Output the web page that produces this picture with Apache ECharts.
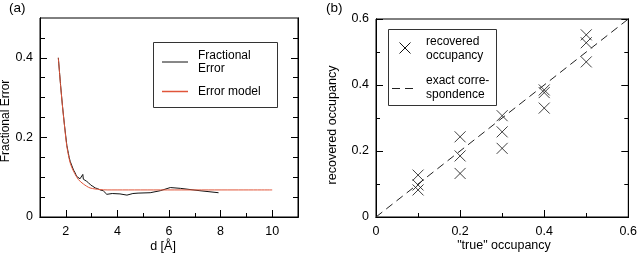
<!DOCTYPE html>
<html>
<head>
<meta charset="utf-8">
<script src="https://cdn.jsdelivr.net/npm/echarts@6.0.0/dist/echarts.min.js"></script>
<style>
  html, body { margin: 0; padding: 0; background: #fff; }
  #chart { width: 640px; height: 254px; }
</style>
</head>
<body>
<div id="chart"></div>
<script>
// panel (a): fractional error vs resolution
const dFrac = [1.71, 1.80, 1.87, 1.95, 2.04, 2.10, 2.13, 2.17, 2.24, 2.30, 2.36, 2.42, 2.49, 2.55, 2.62, 2.66, 2.68, 2.71, 2.80, 2.88, 2.97, 3.05, 3.14, 3.24, 3.33, 3.45, 3.59, 3.80, 4.10, 4.37, 4.60, 4.80, 5.27, 5.66, 6.05, 6.44, 7.20, 7.92];
const fracError = [0.40, 0.33, 0.28, 0.23, 0.18, 0.16, 0.150, 0.140, 0.128, 0.118, 0.111, 0.102, 0.098, 0.096, 0.093, 0.107, 0.095, 0.094, 0.090, 0.086, 0.080, 0.077, 0.073, 0.071, 0.068, 0.066, 0.057, 0.059, 0.058, 0.055, 0.059, 0.060, 0.061, 0.066, 0.074, 0.072, 0.066, 0.061];
const dModel = [1.71, 1.80, 1.87, 1.95, 2.04, 2.17, 2.30, 2.49, 2.68, 2.94, 3.33, 3.60, 10];
const errModel = [0.40, 0.329, 0.279, 0.229, 0.178, 0.136, 0.115, 0.094, 0.083, 0.073, 0.069, 0.068, 0.068];

// panel (b): recovered vs true occupancy
const trueOcc = [0.1, 0.1, 0.1, 0.2, 0.2, 0.2, 0.3, 0.3, 0.3, 0.4, 0.4, 0.4, 0.5, 0.5, 0.5];
const recOcc = [0.127, 0.097, 0.082, 0.243, 0.185, 0.132, 0.307, 0.258, 0.208, 0.385, 0.377, 0.330, 0.552, 0.528, 0.470];
const exactLine = [[0, 0], [0.6, 0.6]];

// tick labels
const aXLabels = [2, 4, 6, 8, 10];
const aXMinor = [3, 5, 7, 9];
const aYLabels = [0, 0.2, 0.4];
const aYMinor = [0.05, 0.1, 0.15, 0.25, 0.3, 0.35, 0.45];
const bLabels = [0, 0.2, 0.4, 0.6];
const bMinor = [0.1, 0.3, 0.5];

const FONT = 'Liberation Sans, Arial, sans-serif';

function axis(kind, gridIndex, min, max, position, ticks, labels, tickLen) {
  return {
    type: 'value',
    gridIndex: gridIndex,
    min: min,
    max: max,
    position: position,
    splitLine: { show: false },
    axisLine: { show: true, lineStyle: { color: '#000', width: 1 } },
    axisTick: {
      show: true,
      inside: true,
      length: tickLen,
      customValues: ticks,
      lineStyle: { color: '#000', width: 1 }
    },
    axisLabel: labels ? {
      show: true,
      customValues: labels,
      margin: kind === 'x' ? 8 : 7,
      color: '#000',
      fontSize: 12.5,
      fontFamily: FONT,
      formatter: v => String(v)
    } : { show: false }
  };
}

const chart = echarts.init(document.getElementById('chart'));

const txt = (x, y, text, extra) => Object.assign({
  type: 'text',
  x: x,
  y: y,
  style: Object.assign({
    text: text,
    fill: '#000',
    font: '12px ' + FONT,
    align: 'left',
    verticalAlign: 'middle'
  }, extra && extra.style)
}, extra && extra.el);

chart.setOption({
  animation: false,
  grid: [
    { left: 40, top: 18, width: 258, height: 199, show: true, borderColor: '#000', borderWidth: 1, backgroundColor: 'transparent' },
    { left: 376, top: 19, width: 256, height: 198, show: true, borderColor: '#000', borderWidth: 1, backgroundColor: 'transparent' }
  ],
  xAxis: [
    axis('x', 0, 1, 11, 'bottom', aXLabels, aXLabels, 7),
    axis('x', 0, 1, 11, 'bottom', aXMinor, null, 4),
    axis('x', 1, 0, 0.6, 'bottom', bLabels, bLabels, 7),
    axis('x', 1, 0, 0.6, 'bottom', bMinor, null, 4)
  ],
  yAxis: [
    axis('y', 0, 0, 0.5, 'left', aYLabels, aYLabels, 7),
    axis('y', 0, 0, 0.5, 'left', aYMinor, null, 5),
    axis('y', 0, 0, 0.5, 'right', aYLabels, null, 7),
    axis('y', 0, 0, 0.5, 'right', aYMinor, null, 5),
    axis('y', 1, 0, 0.6, 'left', bLabels, bLabels, 7),
    axis('y', 1, 0, 0.6, 'left', bMinor, null, 4),
    axis('y', 1, 0, 0.6, 'right', bLabels, null, 7),
    axis('y', 1, 0, 0.6, 'right', bMinor, null, 4)
  ],
  series: [
    {
      name: 'Error model',
      type: 'line',
      xAxisIndex: 0,
      yAxisIndex: 0,
      data: dModel.map((d, i) => [d, errModel[i]]),
      showSymbol: false,
      smooth: 0.3,
      lineStyle: { color: '#e0553a', width: 1 },
      z: 3
    },
    {
      name: 'Fractional Error',
      type: 'line',
      xAxisIndex: 0,
      yAxisIndex: 0,
      data: dFrac.map((d, i) => [d, fracError[i]]),
      showSymbol: false,
      lineStyle: { color: '#111', width: 1 },
      z: 2
    },
    {
      name: 'exact correspondence',
      type: 'line',
      xAxisIndex: 2,
      yAxisIndex: 4,
      data: exactLine,
      showSymbol: false,
      lineStyle: { color: '#222', width: 1, type: [8, 5] }
    },
    {
      name: 'recovered occupancy',
      type: 'scatter',
      xAxisIndex: 2,
      yAxisIndex: 4,
      data: trueOcc.map((x, i) => [x, recOcc[i]]),
      symbol: 'path://M0,0L10,10M10,0L0,10',
      symbolSize: 11,
      itemStyle: { color: 'transparent', borderColor: '#111', borderWidth: 1 }
    }
  ],
  graphic: [
    // panel labels
    txt(9, 8, '(a)', { style: { font: '13.5px ' + FONT } }),
    txt(326, 8, '(b)', { style: { font: '13.5px ' + FONT } }),
    // axis titles
    txt(163, 247, 'd [Å]', { style: { align: 'center', font: '12.5px ' + FONT } }),
    txt(6, 121, 'Fractional Error', { style: { align: 'center', font: '12px ' + FONT }, el: { rotation: Math.PI / 2 } }),
    txt(504, 246, '"true" occupancy', { style: { align: 'center', font: '12.5px ' + FONT } }),
    txt(333, 125, 'recovered occupancy', { style: { align: 'center', font: '12.5px ' + FONT }, el: { rotation: Math.PI / 2 } }),
    // legend (a)
    { type: 'rect', shape: { x: 153.5, y: 42.5, width: 124, height: 65 }, style: { fill: '#fff', stroke: '#333', lineWidth: 1 }, z: 10 },
    { type: 'line', shape: { x1: 162, y1: 62, x2: 188, y2: 62 }, style: { stroke: '#111', lineWidth: 1 }, z: 11 },
    { type: 'line', shape: { x1: 162, y1: 91.5, x2: 188, y2: 91.5 }, style: { stroke: '#e0553a', lineWidth: 1.5 }, z: 11 },
    Object.assign(txt(198, 56, 'Fractional'), { z: 11 }),
    Object.assign(txt(198, 69, 'Error'), { z: 11 }),
    Object.assign(txt(198, 92, 'Error model'), { z: 11 }),
    // legend (b)
    { type: 'rect', shape: { x: 388.5, y: 29.5, width: 108, height: 76 }, style: { fill: '#fff', stroke: '#333', lineWidth: 1 }, z: 10 },
    { type: 'polyline', shape: { points: [[399.5, 42.5], [410.5, 53.5]] }, style: { stroke: '#111', lineWidth: 1 }, z: 11 },
    { type: 'polyline', shape: { points: [[410.5, 42.5], [399.5, 53.5]] }, style: { stroke: '#111', lineWidth: 1 }, z: 11 },
    { type: 'line', shape: { x1: 392, y1: 88.5, x2: 418, y2: 88.5 }, style: { stroke: '#222', lineWidth: 1, lineDash: [8, 5] }, z: 11 },
    Object.assign(txt(426, 42, 'recovered'), { z: 11 }),
    Object.assign(txt(426, 56, 'occupancy'), { z: 11 }),
    Object.assign(txt(426, 81, 'exact corre-'), { z: 11 }),
    Object.assign(txt(426, 95, 'spondence'), { z: 11 })
  ]
});
</script>
</body>
</html>
